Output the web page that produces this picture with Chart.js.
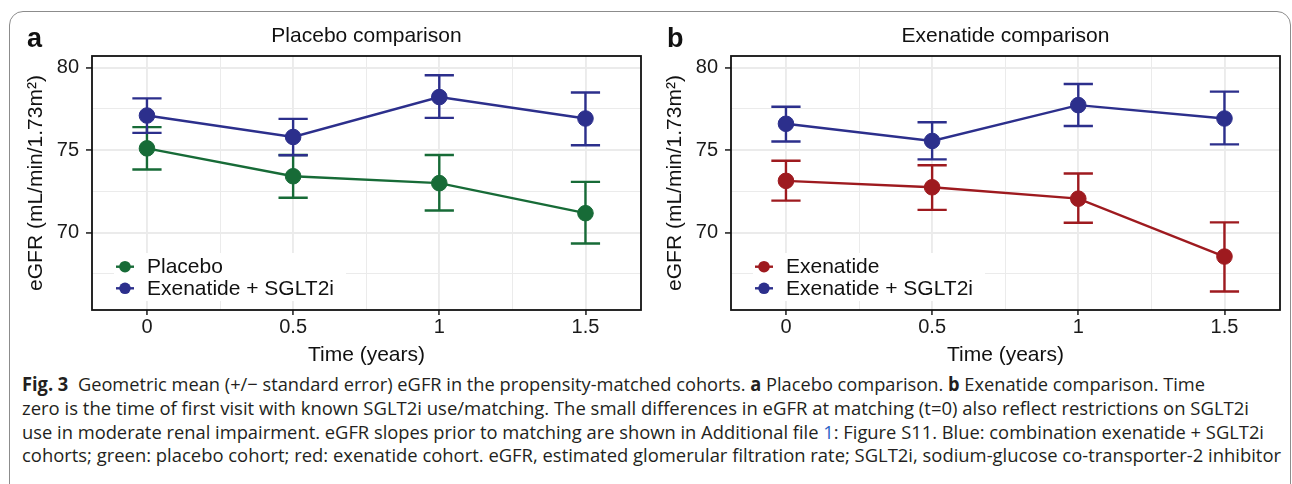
<!DOCTYPE html>
<html><head><meta charset="utf-8">
<script src="https://cdn.jsdelivr.net/npm/chart.js@4.4.1/dist/chart.umd.min.js"></script>
<style>
html,body{margin:0;padding:0;background:#fff;width:1292px;height:484px;overflow:hidden;position:relative;}
#card{position:absolute;left:9px;top:11px;width:1282px;height:560px;border:1.5px solid #8c8c8c;border-radius:14px;box-sizing:border-box;}
canvas{position:absolute;top:0;}
#cA{left:0px}
#cB{left:639px}
.pl{position:absolute;top:25px;font-family:'Liberation Sans',Arial,sans-serif;font-weight:bold;font-size:27px;line-height:27px;color:#111}
.cap{position:absolute;left:22px;font-family:'Open Sans',sans-serif;font-size:19px;line-height:19px;color:#231f20;white-space:nowrap;transform-origin:0 0}
.cap b{font-weight:700}
.lnk{color:#2a64c5}
</style></head>
<body>
<div id="card"></div>
<canvas id="cA" width="650" height="370"></canvas>
<canvas id="cB" width="650" height="370"></canvas>
<div class="pl" style="left:27px">a</div>
<div class="pl" style="left:667px">b</div>
<div class="cap" id="l1" style="top:375px"><b>Fig. 3</b><span style="display:inline-block;width:10px"></span>Geometric mean (+/− standard error) eGFR in the propensity-matched cohorts. <b>a</b> Placebo comparison. <b>b</b> Exenatide comparison. Time</div>
<div class="cap" id="l2" style="top:399px">zero is the time of first visit with known SGLT2i use/matching. The small differences in eGFR at matching (t=0) also reflect restrictions on SGLT2i</div>
<div class="cap" id="l3" style="top:423px">use in moderate renal impairment. eGFR slopes prior to matching are shown in Additional file <span class="lnk">1</span>: Figure S11. Blue: combination exenatide + SGLT2i</div>
<div class="cap" id="l4" style="top:446px">cohorts; green: placebo cohort; red: exenatide cohort. eGFR, estimated glomerular filtration rate; SGLT2i, sodium-glucose co-transporter-2 inhibitor</div>
<script>
// ---- data ----
const timePoints = [0, 0.5, 1, 1.5];
const xTickValues = [0, 0.25, 0.5, 0.75, 1, 1.25, 1.5];
const xTickLabels = ['0', '', '0.5', '', '1', '', '1.5'];
const yTickValues = [67.5, 70, 72.5, 75, 77.5, 80];
const yTickLabels = ['', '70', '', '75', '', '80'];

const placeboMean = [75.10, 73.41, 72.99, 71.17];
const placeboLo   = [73.82, 72.11, 71.33, 69.33];
const placeboHi   = [76.39, 74.70, 74.70, 73.07];

const comboAMean = [77.09, 75.79, 78.21, 76.91];
const comboALo   = [76.04, 74.68, 76.95, 75.29];
const comboAHi   = [78.13, 76.89, 79.53, 78.49];

const exenMean = [73.13, 72.74, 72.05, 68.54];
const exenLo   = [71.93, 71.37, 70.59, 66.42];
const exenHi   = [74.35, 74.08, 73.58, 70.61];

const comboBMean = [76.59, 75.55, 77.72, 76.91];
const comboBLo   = [75.52, 74.43, 76.46, 75.34];
const comboBHi   = [77.62, 76.68, 79.00, 78.54];

const GREEN = '#176b37', BLUE = '#2c2f8c', RED = '#9e1a1f';
const FONT = "'Liberation Sans', Arial, sans-serif";

Chart.defaults.font.family = FONT;
Chart.defaults.color = '#111';

const panelPlugin = {
  id: 'panelExtras',
  beforeDatasetsDraw(chart) {
    const ctx = chart.ctx, ca = chart.chartArea;
    const xs = chart.scales.x, ys = chart.scales.y;
    // legend background
    ctx.save();
    ctx.fillStyle = '#fff';
    ctx.fillRect(ca.left + 22, ca.bottom - 57, 232, 48);
    ctx.restore();
    // error bars
    chart.data.datasets.forEach(ds => {
      ctx.save();
      ctx.strokeStyle = ds.borderColor;
      ctx.lineWidth = 2.4;
      ds.errLo.forEach((lo, j) => {
        const t = timePoints[j];
        const x = xs.getPixelForValue(t);
        const half = xs.getPixelForValue(t + 0.05) - x;
        const y1 = ys.getPixelForValue(lo), y2 = ys.getPixelForValue(ds.errHi[j]);
        ctx.beginPath();
        ctx.moveTo(x, y1); ctx.lineTo(x, y2);
        ctx.moveTo(x - half, y1); ctx.lineTo(x + half, y1);
        ctx.moveTo(x - half, y2); ctx.lineTo(x + half, y2);
        ctx.stroke();
      });
      ctx.restore();
    });
    // legend
    ctx.save();
    ctx.font = '21px ' + FONT;
    ctx.textBaseline = 'middle';
    ctx.textAlign = 'left';
    chart.data.datasets.forEach((ds, i) => {
      const y = ca.bottom - 43.3 + i * 21.6;
      const kx = ca.left + 33;
      ctx.strokeStyle = ds.borderColor;
      ctx.lineWidth = 2.4;
      ctx.beginPath(); ctx.moveTo(kx - 9, y); ctx.lineTo(kx + 9, y); ctx.stroke();
      ctx.fillStyle = ds.borderColor;
      ctx.beginPath(); ctx.arc(kx, y, 5.8, 0, Math.PI * 2); ctx.fill();
      ctx.fillStyle = '#111';
      ctx.fillText(ds.label, ca.left + 55, y + 1);
    });
    ctx.restore();
  },
  afterDatasetsDraw(chart) {
    const ctx = chart.ctx, ca = chart.chartArea;
    ctx.save();
    ctx.strokeStyle = '#111';
    ctx.lineWidth = 1.8;
    ctx.strokeRect(ca.left, ca.top, ca.right - ca.left, ca.bottom - ca.top);
    ctx.restore();
  }
};

function series(label, color, mean, lo, hi, order) {
  return {
    label, order,
    data: timePoints.map((t, i) => ({x: t, y: mean[i]})),
    errLo: lo, errHi: hi,
    borderColor: color, backgroundColor: color,
    pointBackgroundColor: color, pointBorderColor: color,
    pointRadius: 7.8, pointBorderWidth: 1, pointHoverRadius: 7.8,
    borderWidth: 2.4, tension: 0, showLine: true, fill: false
  };
}

function makeChart(id, title, datasets) {
  return new Chart(document.getElementById(id), {
    type: 'line',
    data: { datasets },
    plugins: [panelPlugin],
    options: {
      responsive: false, animation: false, devicePixelRatio: 1,
      layout: { padding: { left: 0, right: 9, top: 0, bottom: 0 } },
      plugins: {
        legend: { display: false },
        tooltip: { enabled: false },
        title: {
          display: true, text: title, fullSize: false, color: '#111',
          font: { size: 21, weight: 'normal', lineHeight: 1.2 },
          padding: { top: 23.4, bottom: 7.4 }
        }
      },
      scales: {
        x: {
          type: 'linear', min: -0.188, max: 1.69,
          afterBuildTicks: s => { s.ticks = xTickValues.map(v => ({value: v})); },
          afterFit: s => { s.height = 60; },
          ticks: { callback: (v, i) => xTickLabels[i], font: { size: 20 }, color: '#1a1a1a', padding: 0, maxRotation: 0, autoSkip: false },
          grid: {
            color: '#ebebeb',
            lineWidth: c => (xTickLabels[c.index] !== '' ? 1.9 : 1.0),
            tickColor: c => (xTickLabels[c.index] !== '' ? '#1a1a1a' : 'rgba(0,0,0,0)'),
            tickWidth: 1.5, tickLength: 5
          },
          border: { display: false },
          title: { display: true, text: 'Time (years)', color: '#111', font: { size: 21, lineHeight: 1.2 }, padding: { top: 0, bottom: 2.4 } }
        },
        y: {
          type: 'linear', min: 65.3, max: 80.7,
          afterBuildTicks: s => { s.ticks = yTickValues.map(v => ({value: v})); },
          afterFit: s => { s.width = 92; },
          ticks: { callback: (v, i) => yTickLabels[i], font: { size: 20 }, color: '#1a1a1a', padding: 7, autoSkip: false },
          grid: {
            color: '#ebebeb',
            lineWidth: c => (yTickLabels[c.index] !== '' ? 1.9 : 1.0),
            tickColor: c => (yTickLabels[c.index] !== '' ? '#1a1a1a' : 'rgba(0,0,0,0)'),
            tickWidth: 1.5, tickLength: 6
          },
          border: { display: false },
          title: { display: true, text: 'eGFR (mL/min/1.73m²)', color: '#111', font: { size: 21, lineHeight: 1.2 }, padding: { top: 23.4, bottom: 0 } }
        }
      }
    }
  });
}

makeChart('cA', 'Placebo comparison', [
  series('Placebo', GREEN, placeboMean, placeboLo, placeboHi, 1),
  series('Exenatide + SGLT2i', BLUE, comboAMean, comboALo, comboAHi, 0)
]);
makeChart('cB', 'Exenatide comparison', [
  series('Exenatide', RED, exenMean, exenLo, exenHi, 1),
  series('Exenatide + SGLT2i', BLUE, comboBMean, comboBLo, comboBHi, 0)
]);

// fit caption lines to the reference line widths
const capTargets = { l1: 1183, l2: 1227, l3: 1242, l4: 1259 };
function fitCaption() {
  Object.keys(capTargets).forEach(id => {
    const el = document.getElementById(id);
    el.style.transform = 'none';
    const w = el.getBoundingClientRect().width;
    el.style.transform = 'scaleX(' + (capTargets[id] / w) + ')';
  });
}
fitCaption();
if (document.fonts && document.fonts.ready) document.fonts.ready.then(fitCaption);
</script>
</body></html>
